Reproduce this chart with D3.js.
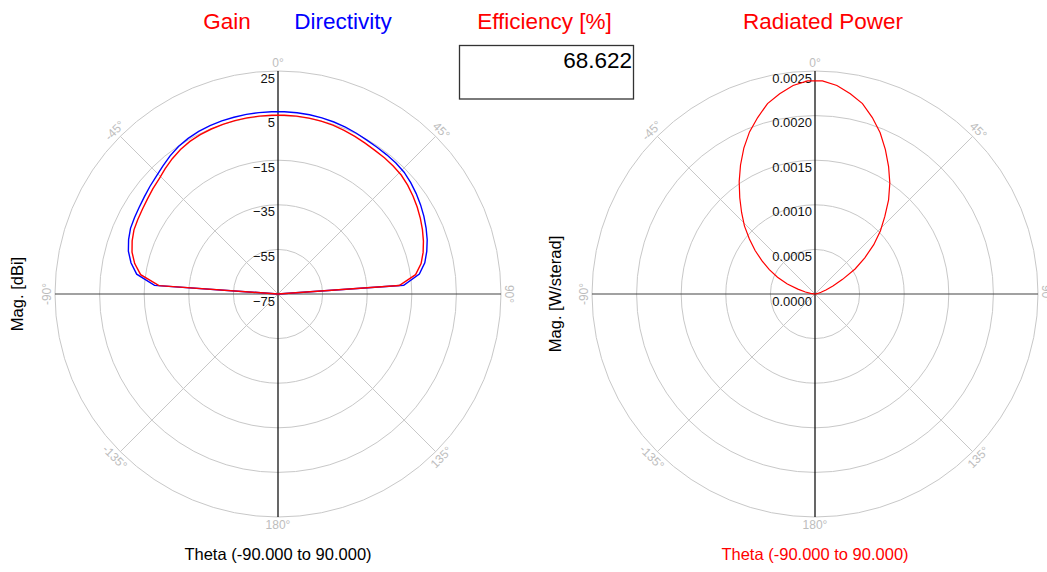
<!DOCTYPE html>
<html>
<head>
<meta charset="utf-8">
<script src="https://cdn.jsdelivr.net/npm/d3@7"></script>
<style>
  html, body { margin: 0; padding: 0; background: #fff; }
  svg { display: block; font-family: "Liberation Sans", Arial, sans-serif; }
</style>
</head>
<body>
<svg id="chart" width="1047" height="572"></svg>
<script>
// ---------------- data ----------------
const theta = [-90,-86,-82,-78,-74,-70,-66,-62,-58,-54,-50,-46,-42,-38,-34,-30,-26,-22,-18,-14,-10,-6,-2,
               2,6,10,14,18,22,26,30,34,38,42,46,50,54,58,62,66,70,74,78,82,86,90];

const gainDbi = [-80,-21.5,-12.8,-9.3,-6.9,-5.4,-4.3,-3.8,-3.3,-2.6,-1.7,-0.8,0.6,2.0,3.2,4.0,4.5,4.8,5.0,5.1,5.2,5.2,5.2,
                 5.2,5.2,5.1,4.9,4.6,4.1,3.6,3.1,2.7,2.5,2.2,1.8,0.9,-0.2,-1.4,-2.7,-4.1,-5.6,-7.3,-9.4,-12.7,-20.5,-80];

const directivityDbi = [-80,-19.5,-11.0,-7.6,-5.2,-3.7,-2.6,-2.1,-1.6,-0.9,0.0,0.9,2.2,3.6,4.8,5.6,6.1,6.4,6.6,6.7,6.8,6.8,6.8,
                        6.8,6.7,6.6,6.4,6.1,5.7,5.2,4.7,4.4,4.2,4.0,3.6,2.7,1.6,0.4,-0.9,-2.3,-3.8,-5.6,-7.7,-11.0,-18.5,-80];

const radiatedPower = [0,0.00001,0.00005,0.00011,0.00020,0.00033,0.00046,0.00058,0.00070,0.00083,0.00096,0.00110,0.00123,0.00137,0.00152,0.00167,0.00182,0.00196,0.00208,0.00220,0.00228,0.00235,0.00239,
                       0.00239,0.00235,0.00228,0.00220,0.00208,0.00195,0.00180,0.00165,0.00150,0.00134,0.00117,0.00102,0.00086,0.00069,0.00053,0.00035,0.00022,0.00013,0.00007,0.00003,0.00001,0.000003,0];

const dbTicks = [-75,-55,-35,-15,5,25];
const powerTicks = [0,0.0005,0.0010,0.0015,0.0020,0.0025];
const angleTicks = [0,45,90,135,180,-135,-90,-45];
const angleLabels = ["0°","45°","90°","135°","180°","-135°","-90°","-45°"];
const efficiencyValue = "68.622";

// ---------------- layout ----------------
const svg = d3.select("#chart");
const R = 223;
const cy = 294;
const leftCx = 278, rightCx = 815;
const font = '"Liberation Sans", Arial, sans-serif';
const rad = a => a * Math.PI / 180;

function drawGrid(g, cx, ticks, rScale, fmt) {
  const grid = g.append("g").attr("transform", `translate(${cx},${cy})`);
  // rings
  grid.selectAll("circle.ring").data(ticks.slice(1)).join("circle")
    .attr("class","ring").attr("r", d => rScale(d))
    .attr("fill","none").attr("stroke","#c8c8c8").attr("stroke-width",1);
  // diagonal spokes
  grid.selectAll("line.spoke").data([45,135,-135,-45]).join("line")
    .attr("x1",0).attr("y1",0)
    .attr("x2", d => R*Math.sin(rad(d))).attr("y2", d => -R*Math.cos(rad(d)))
    .attr("stroke","#c8c8c8").attr("stroke-width",1);
  // main axes
  grid.append("line").attr("x1",-R).attr("x2",R).attr("y1",0).attr("y2",0)
    .attr("stroke","#444").attr("stroke-width",1.2);
  grid.append("line").attr("x1",0).attr("x2",0).attr("y1",-R).attr("y2",R)
    .attr("stroke","#000").attr("stroke-width",1.2);
  // angle labels
  grid.selectAll("text.ang").data(angleTicks).join("text")
    .attr("class","ang")
    .attr("transform", (d) => {
      const rr = R + 8;
      const x = rr*Math.sin(rad(d)), y = -rr*Math.cos(rad(d));
      let rot = d;
      if (d > 90) rot = d - 180;
      if (d < -90) rot = d + 180;
      if (d === 180) rot = 0;
      return `translate(${x},${y}) rotate(${rot})`;
    })
    .attr("text-anchor","middle").attr("dominant-baseline","central")
    .attr("font-size",12).attr("fill","#bdbdbd")
    .text((d,i) => angleLabels[i]);
  // radial tick labels
  grid.selectAll("text.rt").data(ticks).join("text")
    .attr("class","rt")
    .attr("x",-3).attr("y", d => -rScale(d) + 11.5)
    .attr("text-anchor","end").attr("font-size",13).attr("fill","#111")
    .text(fmt);
  return grid;
}

// ---------------- left chart ----------------
const rDb = d3.scaleLinear().domain([-75,25]).range([0,R]).clamp(true);
const left = svg.append("g");
const lg = drawGrid(left, leftCx, dbTicks, rDb, d => d3.format("d")(d));

const lineDb = d3.lineRadial()
  .angle(d => rad(d[0]))
  .radius(d => rDb(d[1]));

lg.append("path").datum(theta.map((t,i) => [t, directivityDbi[i]]))
  .attr("d", lineDb).attr("fill","none").attr("stroke","#0000ff").attr("stroke-width",1.4);
lg.append("path").datum(theta.map((t,i) => [t, gainDbi[i]]))
  .attr("d", lineDb).attr("fill","none").attr("stroke","#ff0000").attr("stroke-width",1.4);

// ---------------- right chart ----------------
const rPw = d3.scaleLinear().domain([0,0.0025]).range([0,R]).clamp(true);
const right = svg.append("g");
const rg = drawGrid(right, rightCx, powerTicks, rPw, d => d3.format(".4f")(d));
const linePw = d3.lineRadial()
  .angle(d => rad(d[0]))
  .radius(d => rPw(d[1]));
rg.append("path").datum(theta.map((t,i) => [t, radiatedPower[i]]))
  .attr("d", linePw).attr("fill","none").attr("stroke","#ff0000").attr("stroke-width",1.2);

// ---------------- titles ----------------
svg.append("text").attr("x",227).attr("y",29).attr("text-anchor","middle")
  .attr("font-size",22.5).attr("fill","#ff0000").text("Gain");
svg.append("text").attr("x",343).attr("y",29).attr("text-anchor","middle")
  .attr("font-size",22.5).attr("fill","#0000ff").text("Directivity");
svg.append("text").attr("x",544.5).attr("y",29).attr("text-anchor","middle")
  .attr("font-size",22.5).attr("fill","#ff0000").text("Efficiency [%]");
svg.append("text").attr("x",823).attr("y",29).attr("text-anchor","middle")
  .attr("font-size",22.5).attr("fill","#ff0000").text("Radiated Power");

// efficiency box
svg.append("rect").attr("x",459.5).attr("y",45.5).attr("width",174).attr("height",53.5)
  .attr("fill","#fff").attr("stroke","#333").attr("stroke-width",1.3);
svg.append("text").attr("x",632).attr("y",68).attr("text-anchor","end")
  .attr("font-size",22.5).attr("fill","#000").text(efficiencyValue);

// axis titles
svg.append("text").attr("transform","translate(23,294) rotate(-90)").attr("text-anchor","middle")
  .attr("font-size",16.5).attr("fill","#000").text("Mag. [dBi]");
svg.append("text").attr("transform","translate(561,294) rotate(-90)").attr("text-anchor","middle")
  .attr("font-size",16.5).attr("fill","#000").text("Mag. [W/sterad]");
svg.append("text").attr("x",leftCx).attr("y",560).attr("text-anchor","middle")
  .attr("font-size",16.5).attr("fill","#000").text("Theta (-90.000 to 90.000)");
svg.append("text").attr("x",rightCx).attr("y",560).attr("text-anchor","middle")
  .attr("font-size",16.5).attr("fill","#ff0000").text("Theta (-90.000 to 90.000)");
</script>
</body>
</html>
